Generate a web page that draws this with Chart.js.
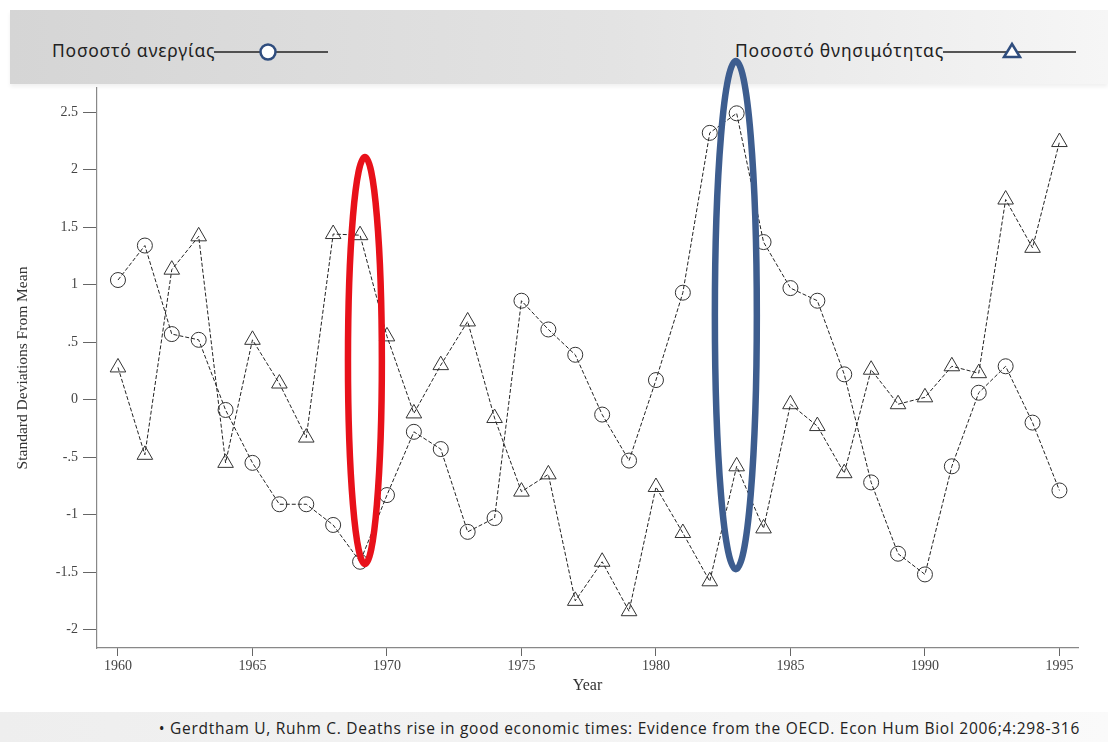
<!DOCTYPE html>
<html>
<head>
<meta charset="utf-8">
<script src="https://cdn.jsdelivr.net/npm/chart.js@4.4.1/dist/chart.umd.min.js"></script>
<style>
  html, body { margin: 0; padding: 0; background: #fff; }
  #page { position: relative; width: 1108px; height: 747px; overflow: hidden; }
  #header {
    position: absolute; left: 10px; top: 10px; width: 1098px; height: 74px;
    background: linear-gradient(to right, #d5d5d5, #e3e3e3 55%, #f6f6f6);
    box-shadow: 0 3px 4px rgba(0,0,0,0.06);
  }
  .leg { position: absolute; top: 28px; font-family: "Noto Sans", sans-serif; font-size: 17.5px; letter-spacing: 0.8px; color: #222; white-space: nowrap; }
  .leg svg { position: absolute; top: 2px; }
  #footer {
    position: absolute; left: 0; top: 712px; width: 1108px; height: 30px;
    background: linear-gradient(to right, #eeeeee, #f4f4f4 60%, #fafafa);
  }
  #cite { position: absolute; right: 28px; top: 5px; font-family: "Open Sans", sans-serif; font-size: 15.5px; letter-spacing: 0.72px; color: #222; white-space: nowrap; }
  #chart { position: absolute; left: 0; top: 0; }
</style>
</head>
<body>
<div id="page">
  <div id="header">
    <div class="leg" style="left:42px;">Ποσοστό ανεργίας<svg width="116" height="30" style="left:162px;" viewBox="0 0 116 30">
        <line x1="0" y1="12" x2="114" y2="12" stroke="#222" stroke-width="1.5"/>
        <circle cx="54" cy="12" r="7.5" fill="#fff" stroke="#2f4d7e" stroke-width="2.5"/>
      </svg></div>
    <div class="leg" style="left:725px;">Ποσοστό θνησιμότητας<svg width="135" height="30" style="left:208px;" viewBox="0 0 135 30">
        <line x1="0" y1="12" x2="133" y2="12" stroke="#222" stroke-width="1.5"/>
        <polygon points="69,4 77,17 61,17" fill="#fff" stroke="#2f4d7e" stroke-width="2.5"/>
      </svg></div>
  </div>
  <div id="footer"><div id="cite">• Gerdtham U, Ruhm C. Deaths rise in good economic times: Evidence from the OECD. Econ Hum Biol 2006;4:298-316</div></div>
  <canvas id="chart" width="1108" height="747"></canvas>
</div>
<script>
// data
const years = [1960, 1961, 1962, 1963, 1964, 1965, 1966, 1967, 1968, 1969,
               1970, 1971, 1972, 1973, 1974, 1975, 1976, 1977, 1978, 1979,
               1980, 1981, 1982, 1983, 1984, 1985, 1986, 1987, 1988, 1989,
               1990, 1991, 1992, 1993, 1994, 1995];

// Ποσοστό ανεργίας (circles)
const unemployment = [1.04, 1.34, 0.57, 0.52, -0.09, -0.55, -0.91, -0.91, -1.09, -1.41,
                      -0.83, -0.28, -0.43, -1.15, -1.03, 0.86, 0.61, 0.39, -0.13, -0.53,
                      0.17, 0.93, 2.32, 2.49, 1.37, 0.97, 0.86, 0.22, -0.72, -1.34,
                      -1.52, -0.58, 0.06, 0.29, -0.20, -0.79];

// Ποσοστό θνησιμότητας (triangles)
const mortality = [0.28, -0.48, 1.13, 1.42, -0.55, 0.52, 0.14, -0.33, 1.44, 1.43,
                   0.55, -0.12, 0.30, 0.68, -0.16, -0.80, -0.65, -1.75, -1.41, -1.84,
                   -0.76, -1.16, -1.58, -0.58, -1.12, -0.04, -0.23, -0.64, 0.26, -0.04,
                   0.02, 0.29, 0.23, 1.74, 1.32, 2.24];

const xTicks = [1960, 1965, 1970, 1975, 1980, 1985, 1990, 1995];
const yTicks = [-2, -1.5, -1, -0.5, 0, 0.5, 1, 1.5, 2, 2.5];
const yTickLabels = ["-2", "-1.5", "-1", "-.5", "0", ".5", "1", "1.5", "2", "2.5"];

// highlight ellipses (in data units)
const highlights = [
  { year: 1969.18, value: 0.34, halfYears: 0.63, halfValue: 1.77, color: "#e8111a" },
  { year: 1982.97, value: 0.735, halfYears: 0.78, halfValue: 2.21, color: "#3d5d8f" }
];

const serif = "'Liberation Serif', 'DejaVu Serif', serif";

const ellipsePlugin = {
  id: "ellipses",
  afterDatasetsDraw(chart) {
    const ctx = chart.ctx;
    const xs = chart.scales.x, ys = chart.scales.y;
    ctx.save();
    highlights.forEach(h => {
      const cx = xs.getPixelForValue(h.year);
      const cy = ys.getPixelForValue(h.value);
      const rx = Math.abs(xs.getPixelForValue(h.year + h.halfYears) - cx);
      const ry = Math.abs(ys.getPixelForValue(h.value + h.halfValue) - cy);
      ctx.beginPath();
      ctx.ellipse(cx, cy, rx, ry, 0, 0, Math.PI * 2);
      ctx.lineWidth = 6.5;
      ctx.strokeStyle = h.color;
      ctx.stroke();
    });
    ctx.restore();
  }
};

function pairs(vals) {
  return years.map((y, i) => ({ x: y, y: vals[i] }));
}

new Chart(document.getElementById("chart"), {
  type: "line",
  data: {
    datasets: [
      {
        label: "Ποσοστό ανεργίας",
        data: pairs(unemployment),
        borderColor: "#222",
        borderWidth: 1,
        borderDash: [4, 2],
        tension: 0,
        pointStyle: "circle",
        pointRadius: 7.5,
        pointBorderWidth: 1,
        pointBorderColor: "#333",
        pointBackgroundColor: "rgba(0,0,0,0)"
      },
      {
        label: "Ποσοστό θνησιμότητας",
        data: pairs(mortality),
        borderColor: "#222",
        borderWidth: 1,
        borderDash: [4, 2],
        tension: 0,
        pointStyle: "triangle",
        pointRadius: 9,
        pointBorderWidth: 1,
        pointBorderColor: "#333",
        pointBackgroundColor: "rgba(0,0,0,0)"
      }
    ]
  },
  options: {
    responsive: false,
    animation: false,
    devicePixelRatio: 1,
    layout: { padding: { left: 0, top: 88, right: 30, bottom: 49 } },
    plugins: { legend: { display: false }, tooltip: { enabled: false } },
    scales: {
      x: {
        type: "linear",
        min: 1959.22,
        max: 1995.69,
        afterBuildTicks: s => { s.ticks = xTicks.map(v => ({ value: v })); },
        afterFit: s => { s.height = 50; },
        border: { color: "#888", width: 1.2 },
        grid: { drawOnChartArea: false, tickLength: 8, color: "#666" },
        ticks: { color: "#444", font: { family: serif, size: 14 }, padding: 2, maxRotation: 0, callback: v => String(v) },
        title: { display: true, text: "Year", color: "#333", font: { family: serif, size: 16 }, padding: { top: 0, bottom: 3 } }
      },
      y: {
        min: -2.16,
        max: 2.71,
        afterBuildTicks: s => { s.ticks = yTicks.map(v => ({ value: v })); },
        afterFit: s => { s.width = 97; },
        border: { color: "#888", width: 1.2 },
        grid: { drawOnChartArea: false, tickLength: 14, color: "#666" },
        ticks: {
          color: "#444",
          font: { family: serif, size: 14 },
          padding: 5,
          callback: v => yTickLabels[yTicks.indexOf(v)]
        },
        title: { display: true, text: "Standard Deviations From Mean", color: "#333", font: { family: serif, size: 15.5 }, padding: { top: 14, bottom: 0 } }
      }
    }
  },
  plugins: [ellipsePlugin]
});
</script>
</body>
</html>
